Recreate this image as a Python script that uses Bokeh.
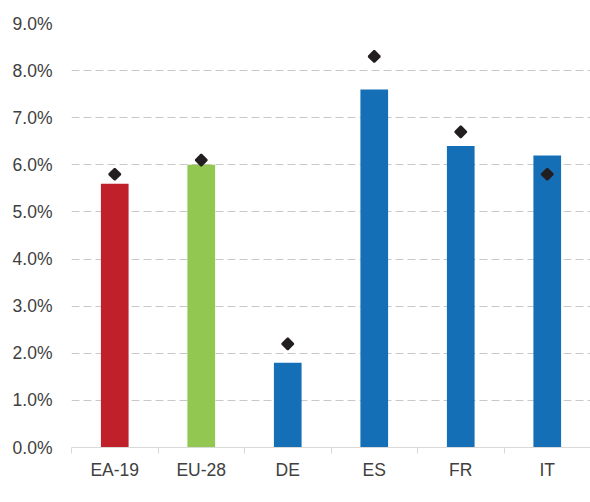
from bokeh.plotting import figure
from bokeh.models import (ColumnDataSource, Range1d, FixedTicker,
                          PrintfTickFormatter, Legend, LegendItem)
from bokeh.embed import file_html
from bokeh.resources import INLINE
import numpy as np

categories = ["EA-19", "EU-28", "DE", "ES", "FR", "IT"]
q2_2019 = [5.6, 6.0, 1.8, 7.6, 6.4, 6.2]
q4_2018 = [5.8, 6.1, 2.2, 8.3, 6.7, 5.8]
bar_colors = ["#C0202A", "#92C852", "#156FB7", "#156FB7", "#156FB7", "#156FB7"]
y_ticks = [0, 1, 2, 3, 4, 5, 6, 7, 8, 9]

FONT = "Liberation Sans"
TXT = "#404040"
FS = "17.5px"

n = len(categories)
centers = [i + 0.5 for i in range(n)]
edges = list(range(n + 1))

src = ColumnDataSource(dict(x=centers, cat=categories, q2=q2_2019, q4=q4_2018, color=bar_colors))

p = figure(x_range=Range1d(0, n), y_range=Range1d(0, 9),
           width=590, height=502, frame_width=519, frame_height=424,
           output_backend="svg", toolbar_location=None,
           min_border_left=71, min_border_right=0, min_border_top=23, min_border_bottom=0,
           outline_line_color=None)

bars = p.vbar(x="x", top="q2", width=0.32, fill_color="color", line_color=None, source=src)
pts = p.scatter(x="x", y="q4", marker="square", angle=np.pi / 4, size=8, line_width=2,
                fill_color="#231F20", line_color="#231F20", source=src)

# y axis
ya = p.yaxis[0]
ya.ticker = FixedTicker(ticks=y_ticks)
ya.formatter = PrintfTickFormatter(format="%.1f%%")
ya.axis_line_color = None
ya.major_tick_line_color = None
ya.minor_tick_line_color = None
ya.major_label_standoff = 13
ya.major_label_text_font = FONT
ya.major_label_text_font_size = FS
ya.major_label_text_color = TXT

p.xgrid.grid_line_color = None
p.ygrid.grid_line_color = "#C8C8C8"
p.ygrid.grid_line_dash = "8 4"
p.ygrid.grid_line_width = 1
p.ygrid.ticker = FixedTicker(ticks=y_ticks[1:])

# x axis: labels at category centres, tick marks at category boundaries
xa = p.xaxis[0]
xa.ticker = FixedTicker(ticks=centers, minor_ticks=edges)
xa.major_label_overrides = {c: lab for c, lab in zip(centers, categories)}
xa.axis_line_color = "#D9D9D9"
xa.major_tick_line_color = None
xa.minor_tick_line_color = "#D9D9D9"
xa.minor_tick_out = 6
xa.minor_tick_in = 0
xa.major_tick_out = 0
xa.major_tick_in = 0
xa.major_label_standoff = 6
xa.major_label_text_font = FONT
xa.major_label_text_font_size = FS
xa.major_label_text_color = TXT

legend = Legend(items=[LegendItem(label="Q2-2019", renderers=[bars], index=2),
                       LegendItem(label="Q4-2018", renderers=[pts], index=0)],
                orientation="horizontal", location=(134, 1),
                border_line_color=None, background_fill_alpha=0,
                label_text_font=FONT, label_text_font_size=FS, label_text_color=TXT,
                glyph_width=10, glyph_height=10, label_standoff=4, spacing=17,
                padding=0, margin=0, label_height=16)
p.add_layout(legend, "below")

open("out.html", "w").write(file_html(p, INLINE))
